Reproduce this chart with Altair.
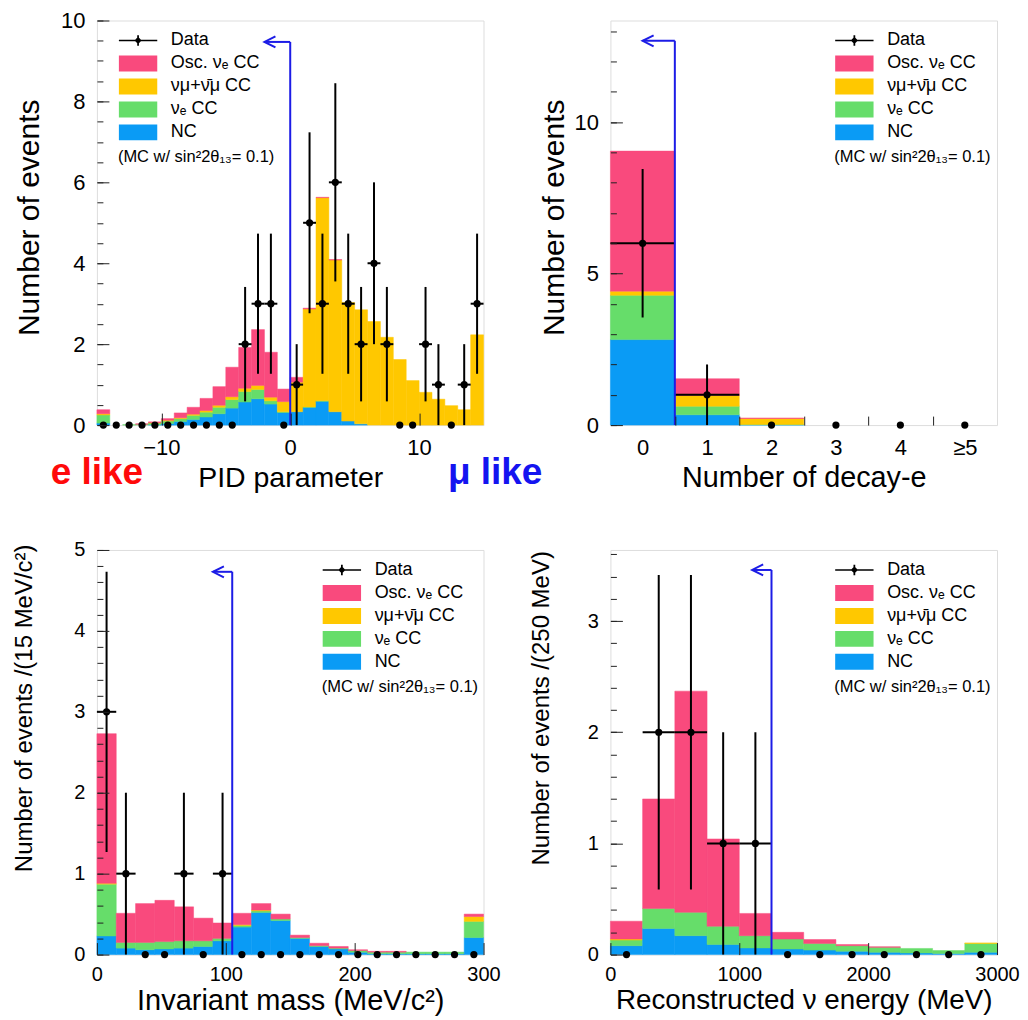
import altair as alt
import numpy as np
import pandas as pd

FONT = "Liberation Sans"
BLUE_CUT = "#1C1CE6"

# ---------------- legend / colours ----------------
SERIES = ["Data", "Osc. νₑ CC", "νμ+ν\u0304μ CC", "νₑ CC", "NC"]
COLORS = ["#000000", "#F94A7D", "#FFC800", "#66DD6A", "#0A9BF5"]
MC_NOTE = "(MC w/ sin²2θ₁₃= 0.1)"
RECT_PATH = "M-1,-1H3.8V1H-1Z"
DATA_PATH = ("M-1,-0.09H3.8V0.09H-1Z M1.29,-0.65H1.51V0.65H1.29Z "
             "M1.4,-0.45L1.85,0L1.4,0.45L0.95,0Z")
SHAPES = [DATA_PATH, RECT_PATH, RECT_PATH, RECT_PATH, RECT_PATH]

# ---------------- panel 1 : PID parameter ----------------
pid_lo = list(range(-15, 15))
pid_nc = [0.05, 0, 0, 0, 0.01, 0.04, 0.09, 0.14, 0.20, 0.28, 0.42, 0.57, 0.65, 0.52, 0.31,
          0.33, 0.44, 0.59, 0.33, 0.10, 0.03, 0, 0, 0, 0, 0, 0, 0, 0, 0]
pid_nue = [0.20, 0, 0.01, 0.02, 0.04, 0.06, 0.07, 0.10, 0.12, 0.16, 0.21, 0.26, 0.23, 0.08, 0.02,
           0, 0.01, 0.01, 0, 0, 0, 0, 0, 0, 0, 0, 0, 0, 0, 0]
pid_numu = [0.03, 0, 0, 0, 0.01, 0.02, 0.02, 0.03, 0.04, 0.05, 0.07, 0.08, 0.10, 0.09, 0.25,
            0.73, 2.42, 5.02, 3.75, 2.93, 2.82, 2.56, 2.17, 1.62, 1.10, 0.81, 0.64, 0.48, 0.38, 2.23]
pid_osc = [0.10, 0, 0, 0.01, 0.02, 0.04, 0.12, 0.17, 0.30, 0.46, 0.73, 1.01, 1.38, 1.11, 0.31,
           0.12, 0.02, 0.01, 0.01, 0, 0, 0, 0, 0, 0, 0, 0, 0, 0, 0]
pid_data = [0, 0, 0, 0, 0, 0, 0, 0, 0, 0, 0, 2, 3, 3, 0,
            1, 5, 3, 6, 3, 2, 4, 2, 0, 0, 2, 1, 0, 1, 3]
pid_cut = [0, 9.47, -2.0]
ann_text = ["e like", "μ like"]
ann_x = [-15.0, 15.9]
ann_y = [-1.46, -1.46]
ann_color = ["#FF0A0A", "#1414F0"]

# ---------------- panel 2 : number of decay-e ----------------
dec_lo = [-0.5, 0.5, 1.5, 2.5, 3.5, 4.5]
dec_labels = ["0", "1", "2", "3", "4", "≥5"]
dec_nc = [2.82, 0.34, 0.01, 0, 0, 0]
dec_nue = [1.46, 0.28, 0.01, 0, 0, 0]
dec_numu = [0.14, 0.36, 0.20, 0, 0, 0]
dec_osc = [4.62, 0.55, 0.01, 0, 0, 0]
dec_data = [6, 1, 0, 0, 0, 0]
dec_cut = [0.5, 12.68, 0.0]

# ---------------- panel 3 : invariant mass ----------------
mass_lo = list(range(0, 300, 15))
mass_nc = [0.23, 0.08, 0.06, 0.07, 0.08, 0.10, 0.17, 0.34, 0.52, 0.42,
           0.20, 0.10, 0.07, 0.03, 0.01, 0.01, 0.01, 0.01, 0.01, 0.21]
mass_nue = [0.64, 0.07, 0.09, 0.09, 0.09, 0.07, 0.03, 0.02, 0.02, 0.02,
            0.01, 0.01, 0.01, 0.02, 0.02, 0.02, 0.02, 0.02, 0.02, 0.20]
mass_numu = [0.01, 0, 0, 0, 0, 0, 0, 0.01, 0.01, 0,
             0, 0, 0, 0, 0, 0, 0, 0, 0, 0.06]
mass_osc = [1.85, 0.36, 0.48, 0.51, 0.42, 0.28, 0.19, 0.14, 0.08, 0.06,
            0.03, 0.03, 0.02, 0.01, 0.01, 0.01, 0, 0, 0, 0.03]
mass_data = [3, 1, 0, 0, 1, 0, 1, 0, 0, 0, 0, 0, 0, 0, 0, 0, 0, 0, 0, 0]
mass_cut = [105, 4.73, 90]

# ---------------- panel 4 : reconstructed energy ----------------
en_lo = list(range(0, 3000, 250))
en_nc = [0.08, 0.235, 0.17, 0.09, 0.06, 0.05, 0.04, 0.03, 0.02, 0.015, 0.01, 0.02]
en_nue = [0.05, 0.18, 0.21, 0.165, 0.11, 0.09, 0.06, 0.05, 0.045, 0.04, 0.026, 0.08]
en_numu = [0.01, 0, 0, 0, 0, 0, 0, 0, 0, 0, 0, 0.005]
en_osc = [0.16, 0.985, 1.99, 0.785, 0.20, 0.06, 0.035, 0.01, 0.005, 0, 0, 0]
en_data = [0, 2, 2, 1, 1, 0, 0, 0, 0, 0, 0, 0]
en_cut = [1250, 3.46, 1100]

PW, PH = 387, 405


def legend(x, y):
    return alt.Legend(
        title=MC_NOTE, orient="none", legendX=x, legendY=y, titleOrient="bottom",
        titleAnchor="start", titleFont=FONT, titleFontSize=16.5, titleFontWeight="normal",
        titleColor="black", titlePadding=8, labelFont=FONT, labelFontSize=18,
        labelColor="black", labelOffset=35, symbolSize=256, symbolStrokeWidth=0,
        symbolOpacity=1, rowPadding=5, padding=0)


def y_axis(values, title, tsize, ty, tpad, lsize):
    return alt.Axis(values=values, orient="left", offset=-12, tickSize=12, tickWidth=1,
                    tickColor="#222222", domain=False, grid=False, labelFont=FONT,
                    labelFontSize=lsize, labelColor="black", labelPadding=12,
                    labelOverlap=False, title=title, titleFont=FONT, titleFontSize=tsize,
                    titleFontWeight="normal", titleColor="black", titleY=ty,
                    titlePadding=tpad, zindex=2)


def x_axis(values, title, tsize, lsize, lpad, tpad, ticks=True, expr=None):
    kw = dict(values=values, orient="bottom", domain=False, grid=False, labelFont=FONT,
              labelFontSize=lsize, labelColor="black", labelPadding=lpad, labelFlush=False,
              labelOverlap=False, format="d", title=title, titleFont=FONT, titleFontSize=tsize,
              titleFontWeight="normal", titleColor="black", titlePadding=tpad, zindex=2)
    if ticks:
        kw.update(offset=-12, tickSize=12, tickWidth=1, tickColor="#222222")
    else:
        kw.update(ticks=False)
    if expr:
        kw["labelExpr"] = expr
    return alt.Axis(**kw)


def minor_y(values):
    return alt.Axis(values=values, orient="left", offset=-6, tickSize=6, tickWidth=1,
                    tickColor="#222222", domain=False, grid=False, labels=False,
                    title=None, zindex=2)


def minor_x(values):
    return alt.Axis(values=values, orient="bottom", offset=-9, tickSize=9, tickWidth=1,
                    tickColor="#222222", domain=False, grid=False, labels=False,
                    title=None, zindex=2)


def panel(lo, w, nc, nue, numu, osc, data, xdom, ydom, xax, yax, ymin, cut, leg_xy,
          xmin=None, extra=None):
    xs = alt.Scale(domain=xdom, nice=False, zero=False, padding=0)
    ys = alt.Scale(domain=ydom, nice=False, zero=False, padding=0)
    cs = alt.Scale(domain=SERIES, range=COLORS)
    ss = alt.Scale(domain=SERIES, range=SHAPES)
    leg = legend(*leg_xy)

    rows = []
    for i, l in enumerate(lo):
        for name, o, arr in ((SERIES[4], 0, nc), (SERIES[3], 1, nue),
                             (SERIES[2], 2, numu), (SERIES[1], 3, osc)):
            rows.append({"lo": l, "hi": l + w, "series": name, "ord": o, "v": arr[i]})
    mc = pd.DataFrame(rows)

    bars = (alt.Chart(mc)
            .transform_stack(stack="v", groupby=["lo"], as_=["y0", "y1"],
                             sort=[alt.SortField("ord", order="ascending")])
            .transform_filter("datum.v > 0")
            .mark_bar(strokeWidth=0.5)
            .encode(x=alt.X("lo:Q", scale=xs, axis=xax), x2="hi:Q",
                    y=alt.Y("y0:Q", scale=ys, axis=yax), y2="y1:Q",
                    color=alt.Color("series:N", scale=cs, legend=leg),
                    stroke=alt.Stroke("series:N", scale=cs, legend=None)))

    dd = pd.DataFrame({"lo": lo, "n": data})
    dd["hi"] = dd["lo"] + w
    dd["series"] = "Data"
    base = alt.Chart(dd).transform_calculate(c="(datum.lo + datum.hi) / 2")
    ev = (base.transform_filter("datum.n > 0")
          .transform_calculate(elo="datum.n - sqrt(datum.n)", ehi="datum.n + sqrt(datum.n)")
          .mark_rule(color="black", strokeWidth=2)
          .encode(x=alt.X("c:Q", scale=xs, axis=None),
                  y=alt.Y("elo:Q", scale=ys, axis=None), y2="ehi:Q"))
    eh = (base.transform_filter("datum.n > 0")
          .mark_rule(color="black", strokeWidth=2)
          .encode(x=alt.X("lo:Q", scale=xs, axis=None), x2="hi:Q",
                  y=alt.Y("n:Q", scale=ys, axis=None)))
    pts = (base.mark_circle(size=52, opacity=1)
           .encode(x=alt.X("c:Q", scale=xs, axis=None),
                   y=alt.Y("n:Q", scale=ys, axis=None),
                   color=alt.Color("series:N", scale=cs, legend=leg)))

    cd = pd.DataFrame({"cx": [cut[0]], "top": [cut[1]], "tip": [cut[2]], "base": [ydom[0]]})
    vline = (alt.Chart(cd).mark_rule(color=BLUE_CUT, strokeWidth=2)
             .encode(x=alt.X("cx:Q", scale=xs, axis=None),
                     y=alt.Y("base:Q", scale=ys, axis=None), y2="top:Q"))
    hline = (alt.Chart(cd).mark_rule(color=BLUE_CUT, strokeWidth=2)
             .encode(x=alt.X("cx:Q", scale=xs, axis=None), x2="tip:Q",
                     y=alt.Y("top:Q", scale=ys, axis=None)))
    head = (alt.Chart(cd).mark_point(shape="M1,-0.5L0,0L1,0.5", filled=False, color=BLUE_CUT,
                                     strokeWidth=2, size=484, opacity=1)
            .encode(x=alt.X("tip:Q", scale=xs, axis=None),
                    y=alt.Y("top:Q", scale=ys, axis=None)))

    gd = pd.DataFrame({"series": SERIES, "gx": [np.nan] * 5, "gy": [np.nan] * 5})
    ghost = (alt.Chart(gd).mark_point(filled=True, opacity=1, size=10)
             .encode(x=alt.X("gx:Q", scale=xs, axis=xmin if xmin is not None else None),
                     y=alt.Y("gy:Q", scale=ys, axis=ymin),
                     color=alt.Color("series:N", scale=cs, legend=leg),
                     shape=alt.Shape("series:N", scale=ss, legend=leg)))

    layers = [bars, ev, eh, pts, vline, hline, head, ghost]
    if extra is not None:
        layers.append(extra(xs, ys))
    return (alt.layer(*layers)
            .resolve_axis(x="independent", y="independent")
            .properties(width=PW, height=PH))


def pid_annotations(xs, ys):
    ad = pd.DataFrame({"txt": ann_text, "ax": ann_x, "ay": ann_y, "col": ann_color})
    return (alt.Chart(ad).mark_text(font=FONT, fontSize=37, fontWeight="bold",
                                    baseline="alphabetic", align="center")
            .encode(x=alt.X("ax:Q", scale=xs, axis=None),
                    y=alt.Y("ay:Q", scale=ys, axis=None),
                    text="txt:N", fill=alt.Fill("col:N", scale=None)))


tl = panel(pid_lo, 1, pid_nc, pid_nue, pid_numu, pid_osc, pid_data,
           [-15, 15], [0, 10],
           x_axis([-10, 0, 10], "PID parameter", 28.5, 22, 12, 5),
           y_axis([0, 2, 4, 6, 8, 10], "Number of events", 30, 197, 16, 22),
           minor_y(list(np.arange(0, 10.01, 0.5))), pid_cut, (21, 11),
           extra=pid_annotations)

tr = panel(dec_lo, 1, dec_nc, dec_nue, dec_numu, dec_osc, dec_data,
           [-0.5, 5.5], [0, 13.35],
           x_axis([0, 1, 2, 3, 4, 5], "Number of decay-e", 28.8, 22, 12, 5, ticks=False,
                  expr="datum.value == 5 ? '≥5' : datum.label"),
           y_axis([0, 5, 10], "Number of events", 30, 197, 4, 22),
           minor_y(list(range(0, 14))), dec_cut, (224, 11),
           xmin=minor_x([0.5, 1.5, 2.5, 3.5, 4.5]))

bl = panel(mass_lo, 15, mass_nc, mass_nue, mass_numu, mass_osc, mass_data,
           [0, 300], [0, 5],
           x_axis([0, 100, 200, 300], "Invariant mass (MeV/c²)", 29, 20, 10, 2),
           y_axis([0, 1, 2, 3, 4, 5], "Number of events /(15 MeV/c²)", 24, 158, 37, 20),
           minor_y(list(np.round(np.arange(0, 5.01, 0.2), 2))), mass_cut, (225, 11))

br = panel(en_lo, 250, en_nc, en_nue, en_numu, en_osc, en_data,
           [0, 3000], [0, 3.64],
           x_axis([0, 1000, 2000, 3000], "Reconstructed ν energy (MeV)", 27.8, 20, 10, 2),
           y_axis([0, 1, 2, 3], "Number of events /(250 MeV)", 24, 158, 34, 20),
           minor_y(list(np.round(np.arange(0, 3.61, 0.2), 2))), en_cut, (224, 11))

chart = (alt.concat(tl, tr, bl, br, columns=2, spacing={"row": 125, "column": 127},
                    bounds="flush", padding={"left": 4, "top": 0, "right": 0, "bottom": 0})
         .resolve_scale(color="independent", shape="independent")
         .configure_view(stroke="#3a3a3a", strokeWidth=1.3)
         .configure(font=FONT))

chart.save("out.html", embed_options={"renderer": "svg", "actions": False})
